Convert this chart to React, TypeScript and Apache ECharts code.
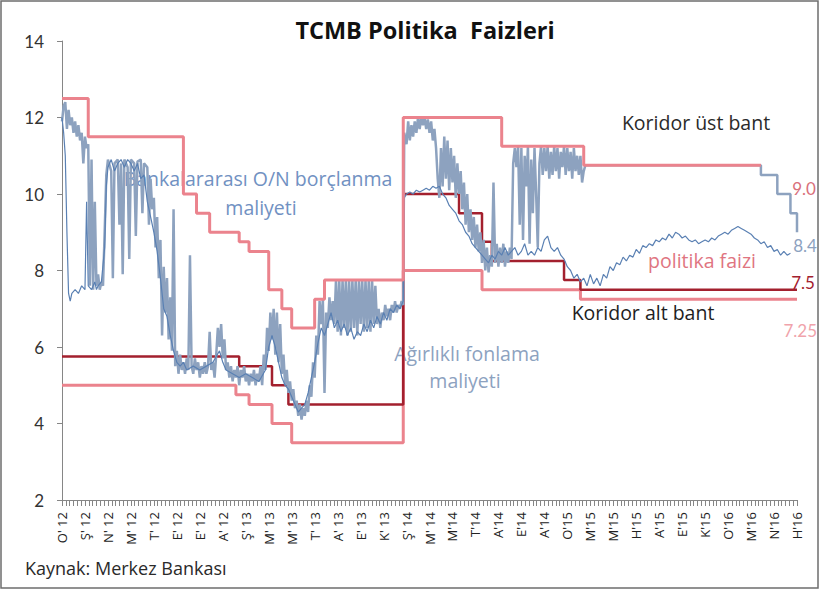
import React, { useEffect, useRef } from "react";
import * as echarts from "echarts";

// x positions are week indices (0 = start of Jan 2012); a label every 7 weeks
const X_LABELS = [
  "O' 12", "Ş' 12", "N' 12", "M' 12", "T' 12", "E' 12", "E' 12", "A' 12",
  "Ş' 13", "M' 13", "M' 13", "T' 13", "A' 13", "E' 13", "K' 13",
  "Ş' 14", "M' 14", "M'14", "T'14", "A'14", "E'14", "A'14",
  "O'15", "M'15", "M'15", "H'15", "A'15", "E'15", "K'15",
  "O'16", "M'16", "N'16", "H'16",
];

const Y_TICKS = [2, 4, 6, 8, 10, 12, 14];

// step series: [week, value] change points
const UPPER_BAND = [
  [0, 12.5], [8, 11.5], [37, 10], [41, 9.5], [45, 9], [54, 8.75], [57, 8.5],
  [63, 7.5], [67, 7], [70, 6.5], [77, 7.25], [80, 7.75], [104, 12], [134, 11.25],
  [159, 10.75], [213, 10.75],
];
const POLICY_RATE = [
  [0, 5.75], [54, 5.5], [64, 5.0], [69, 4.5], [104, 10], [121, 9.5], [128, 8.75],
  [131, 8.25], [153, 7.75], [158, 7.5], [224, 7.5],
];
const LOWER_BAND = [
  [0, 5], [53, 4.75], [57, 4.5], [64, 4.0], [70, 3.5], [104, 8], [128, 7.5],
  [158, 7.25], [224, 7.25],
];

// Bankalararası O/N borçlanma maliyeti
const ON_RATE = [
  [0, 11.9], [0.5, 12.3], [1, 12.4], [1.5, 11.7], [2, 12.2], [2.5, 11.8], [3, 12.0], [3.5, 11.6],
  [4, 11.9], [4.5, 11.5], [5, 11.8], [5.5, 11.4], [6, 11.6], [6.5, 10.8], [7, 11.5], [7.5, 11.2],
  [8, 11.3], [8.5, 7.6], [9, 10.9], [9.5, 7.5], [10, 9.8], [10.5, 7.6], [11, 7.9], [11.5, 7.5],
  [12, 7.7], [12.5, 7.6], [13, 9.0], [13.5, 10.5], [14, 10.9], [15, 10.6], [15.5, 7.8], [16, 10.8],
  [17, 10.9], [17.5, 9.2], [18, 10.8], [18.5, 7.9], [19, 10.9], [20, 10.7], [20.5, 8.3], [21, 10.9],
  [22, 10.8], [22.5, 8.9], [23, 10.85], [24, 10.9], [24.5, 9.5], [25, 10.8], [26, 10.7], [26.5, 9.2],
  [27, 10.4], [27.5, 9.6], [28, 9.9], [28.5, 8.6], [29, 9.4], [29.5, 7.8], [30, 8.8], [30.5, 6.3],
  [31, 8.1], [31.5, 6.9], [32, 7.8], [32.5, 6.2], [33, 7.3], [33.5, 5.9], [34, 9.6], [34.5, 5.5],
  [35, 5.9], [35.5, 5.3], [36, 5.8], [36.5, 5.4], [37, 5.6], [37.5, 5.3], [38, 5.7], [38.5, 5.4],
  [39, 8.4], [39.5, 5.5], [40, 5.3], [40.5, 5.7], [41, 5.4], [41.5, 5.6], [42, 5.2], [42.5, 5.5],
  [43, 5.3], [43.5, 5.6], [44, 5.3], [44.5, 5.5], [45, 6.4], [45.5, 5.4], [46, 5.6], [46.5, 5.2],
  [47, 5.8], [47.5, 6.5], [48, 6.0], [48.5, 6.6], [49, 5.7], [49.5, 6.2], [50, 5.4], [50.5, 5.6],
  [51, 5.2], [51.5, 5.5], [52, 5.1], [52.5, 5.4], [53, 5.2], [53.5, 5.5], [54, 5.0], [54.5, 5.4],
  [55, 5.2], [55.5, 5.5], [56, 5.1], [56.5, 5.3], [57, 5.0], [57.5, 5.3], [58, 5.1], [58.5, 5.4],
  [59, 5.0], [59.5, 5.3], [60, 5.1], [60.5, 5.5], [61, 5.0], [61.5, 5.8], [62, 5.4], [62.5, 6.5],
  [63, 5.9], [63.5, 6.9], [64, 6.2], [64.5, 7.0], [65, 5.8], [65.5, 6.9], [66, 5.6], [66.5, 6.6],
  [67, 5.3], [67.5, 5.8], [68, 5.0], [68.5, 5.4], [69, 4.8], [69.5, 5.1], [70, 4.6], [70.5, 4.9],
  [71, 4.4], [71.5, 4.6], [72, 4.2], [72.5, 4.5], [73, 4.1], [73.5, 4.4], [74, 4.2], [74.5, 4.6],
  [75, 4.3], [75.5, 5.0], [76, 4.7], [76.5, 5.6], [77, 5.2], [77.5, 6.3], [78, 5.8], [78.5, 7.2],
  [79, 6.6], [79.5, 7.25], [80, 4.8], [80.5, 6.9], [81, 6.5], [81.5, 7.3], [82, 6.7], [82.5, 7.2],
  [83, 6.6], [83.5, 7.75], [84, 6.4], [84.5, 7.75], [85, 6.3], [85.5, 7.75], [86, 6.5], [86.5, 7.75],
  [87, 6.3], [87.5, 7.75], [88, 6.4], [88.5, 7.75], [89, 6.5], [89.5, 7.75], [90, 6.3], [90.5, 7.75],
  [91, 6.6], [91.5, 7.75], [92, 6.4], [92.5, 7.75], [93, 6.5], [93.5, 7.75], [94, 6.4], [94.5, 7.75],
  [95, 6.6], [95.5, 7.6], [96, 6.6], [96.5, 7.0], [97, 6.5], [97.5, 6.9], [98, 6.7], [98.5, 7.1],
  [99, 6.8], [99.5, 7.0], [100, 6.7], [100.5, 7.1], [101, 6.9], [101.5, 7.2], [102, 6.9], [102.5, 7.1],
  [103, 7.0], [103.5, 7.2], [104, 7.1], [104.3, 11.6], [105, 11.3], [105.5, 11.9], [106, 11.4], [106.5, 11.8],
  [107, 11.5], [107.5, 11.9], [108, 11.6], [108.5, 12.0], [109, 11.7], [109.5, 12.0], [110, 11.8], [110.5, 12.0],
  [111, 11.7], [111.5, 11.95], [112, 11.6], [112.5, 11.9], [113, 11.4], [113.5, 11.7], [114, 11.2], [114.5, 10.4],
  [115, 9.9], [115.5, 11.2], [116, 10.2], [116.5, 11.5], [117, 10.4], [117.5, 11.4], [118, 10.1], [118.5, 11.2],
  [119, 10.3], [119.5, 11.0], [120, 9.9], [120.5, 10.8], [121, 10.0], [121.5, 10.6], [122, 9.6], [122.5, 10.3],
  [123, 9.2], [123.5, 10.0], [124, 9.0], [124.5, 9.6], [125, 8.8], [125.5, 9.4], [126, 8.6], [126.5, 9.2],
  [127, 8.5], [127.5, 9.0], [128, 8.2], [128.5, 8.8], [129, 8.0], [129.5, 8.6], [130, 7.95], [130.5, 8.4],
  [131, 8.1], [131.5, 10.3], [132, 8.2], [132.5, 8.7], [133, 8.1], [133.5, 8.6], [134, 8.2], [134.5, 8.7],
  [135, 8.1], [135.5, 8.5], [136, 8.2], [136.5, 8.6], [137, 8.3], [137.5, 10.8], [138, 11.2], [138.5, 10.7],
  [139, 11.25], [139.5, 9.2], [140, 11.2], [140.5, 8.8], [141, 11.0], [141.5, 10.2], [142, 11.25], [142.5, 8.7],
  [143, 10.9], [143.5, 9.5], [144, 11.2], [144.5, 10.0], [145, 8.6], [145.5, 10.8], [146, 11.25], [146.5, 10.5],
  [147, 11.2], [147.5, 10.6], [148, 11.25], [148.5, 10.4], [149, 11.1], [149.5, 10.5], [150, 11.25], [150.5, 10.6],
  [151, 11.2], [151.5, 10.4], [152, 11.1], [152.5, 10.7], [153, 11.25], [153.5, 10.5], [154, 11.2], [154.5, 10.6],
  [155, 11.1], [155.5, 10.4], [156, 11.2], [156.5, 10.6], [157, 11.0], [157.5, 10.5], [158, 11.0], [158.5, 10.3],
  [159, 10.6], [159.5, 10.75], [213, 10.75], [213, 10.5], [218, 10.5], [218, 10.0], [222, 10.0], [222, 9.5],
  [224, 9.5], [224, 9.0],
];

// Ağırlıklı fonlama maliyeti
const WEIGHTED_COST = [
  [0, 12.0], [0.5, 11.6], [1, 11.0], [1.5, 9.0], [2, 7.4], [2.5, 7.2], [3, 7.4], [4, 7.5],
  [5, 7.4], [6, 7.6], [7, 7.5], [7.5, 9.8], [8, 7.6], [9, 7.5], [10, 7.7], [10.5, 7.5],
  [11, 7.6], [12, 7.7], [13, 8.6], [13.5, 10.2], [14, 10.7], [15, 10.9], [16, 10.6], [17, 10.8],
  [18, 10.9], [19, 10.7], [20, 10.9], [21, 10.8], [22, 10.6], [23, 10.8], [24, 10.4], [25, 10.5],
  [26, 9.8], [27, 9.4], [28, 9.0], [29, 8.5], [30, 7.8], [31, 7.0], [32, 6.8], [33, 6.3],
  [34, 5.9], [35, 5.6], [36, 5.5], [37, 5.6], [38, 5.4], [40, 5.5], [42, 5.4], [44, 5.5],
  [46, 5.6], [48, 5.9], [49, 5.6], [50, 5.4], [52, 5.3], [54, 5.2], [56, 5.3], [58, 5.2],
  [60, 5.1], [62, 5.4], [63, 6.0], [64, 6.3], [65, 6.0], [66, 5.6], [67, 5.2], [68, 5.0],
  [69, 4.9], [70, 4.7], [71, 4.5], [72, 4.3], [73, 4.4], [74, 4.5], [75, 4.8], [76, 5.2],
  [77, 5.6], [78, 6.1], [79, 6.5], [80, 6.3], [81, 6.6], [82, 6.9], [83, 6.5], [84, 6.7],
  [85, 6.4], [86, 6.6], [87, 6.3], [88, 6.5], [89, 6.2], [90, 6.4], [91, 6.3], [92, 6.6],
  [93, 6.4], [94, 6.7], [95, 6.5], [96, 6.8], [97, 6.6], [98, 6.9], [99, 6.7], [100, 7.0],
  [101, 6.9], [102, 7.1], [103, 7.0], [104, 7.2], [104.3, 9.9], [105, 10.0], [106, 10.05], [107, 10.0],
  [108, 10.1], [109, 10.05], [110, 10.1], [111, 10.15], [112, 10.1], [113, 10.2], [114, 10.15], [115, 10.2],
  [116, 10.0], [117, 9.9], [118, 9.7], [119, 9.6], [120, 9.5], [121, 9.3], [122, 9.2], [123, 9.0],
  [124, 8.9], [125, 8.7], [126, 8.6], [127, 8.5], [128, 8.4], [129, 8.3], [130, 8.2], [131, 8.4],
  [132, 8.3], [133, 8.5], [134, 8.4], [135, 8.6], [136, 8.4], [137, 8.5], [138, 8.6], [139, 8.4],
  [140, 8.5], [141, 8.7], [142, 8.4], [143, 8.5], [144, 8.4], [145, 8.6], [146, 8.5], [147, 8.8],
  [148, 8.9], [149, 8.6], [150, 8.5], [151, 8.6], [152, 8.4], [153, 8.3], [154, 8.1], [155, 8.0],
  [156, 7.8], [157, 7.9], [158, 7.7], [159, 7.8], [160, 7.6], [161, 7.9], [162, 7.65], [163, 7.8],
  [164, 7.6], [165, 7.9], [166, 7.8], [167, 8.1], [168, 8.0], [169, 8.2], [170, 8.15], [171, 8.35],
  [172, 8.25], [173, 8.4], [174, 8.35], [175, 8.55], [176, 8.45], [177, 8.65], [178, 8.6], [179, 8.7],
  [180, 8.65], [181, 8.8], [182, 8.75], [183, 8.85], [184, 8.8], [185, 8.95], [186, 8.85], [187, 9.0],
  [188, 8.95], [189, 8.85], [190, 8.9], [191, 8.8], [192, 8.75], [193, 8.8], [194, 8.7], [195, 8.75],
  [196, 8.8], [197, 8.75], [198, 8.85], [199, 8.8], [200, 8.9], [201, 8.95], [202, 9.0], [203, 8.95],
  [204, 9.05], [205, 9.1], [206, 9.15], [207, 9.1], [208, 9.05], [209, 9.0], [210, 8.95], [211, 8.85],
  [212, 8.8], [213, 8.7], [214, 8.75], [215, 8.6], [216, 8.65], [217, 8.5], [218, 8.55], [219, 8.4],
  [220, 8.5], [221, 8.4], [222, 8.45],
];

const FONT = 'Lato, "Open Sans", "DejaVu Sans", sans-serif';
const WIDE_FONT = '"Open Sans", Lato, "DejaVu Sans", sans-serif';
const PINK = "#eb838d";
const DARK_RED = "#a3202e";
const GREY_BLUE = "#8da2bf";
const BLUE = "#5a80b3";

function txt(text: string, x: number, y: number, fill: string, fontSize = 17, extra: any = {}) {
  return {
    type: "text",
    x,
    y,
    silent: true,
    style: {
      text,
      fill,
      fontSize,
      fontFamily: WIDE_FONT,
      textAlign: "center",
      textVerticalAlign: "middle",
      ...extra,
    },
  };
}

export default function App() {
  const ref = useRef<HTMLDivElement>(null);

  useEffect(() => {
    document.body.style.margin = "0";
    const chart = echarts.init(ref.current!, null, { renderer: "svg" });
    const option: any = {
      animation: false,
      backgroundColor: "#ffffff",
      grid: { left: 62, right: 23, top: 41, bottom: 90, containLabel: false },
      xAxis: [
        {
          type: "value",
          min: 0,
          max: (X_LABELS.length - 1) * 7,
          interval: 7,
          axisLine: { show: true, lineStyle: { color: "#868686", width: 1 } },
          axisTick: { show: true, length: 6, lineStyle: { color: "#868686" } },
          minorTick: { show: true, splitNumber: 6, length: 6, lineStyle: { color: "#868686" } },
          splitLine: { show: false },
          axisLabel: { show: false },
        },
        {
          type: "category",
          data: X_LABELS,
          boundaryGap: false,
          position: "bottom",
          axisLine: { show: false },
          axisTick: { show: false },
          splitLine: { show: false },
          axisLabel: {
            rotate: 90,
            interval: 0,
            margin: 12,
            fontSize: 13,
            color: "#222",
            fontFamily: WIDE_FONT,
          },
        },
      ],
      yAxis: {
        type: "value",
        min: Y_TICKS[0],
        max: Y_TICKS[Y_TICKS.length - 1],
        interval: 2,
        axisLine: { show: true, lineStyle: { color: "#868686", width: 1 } },
        axisTick: { show: true, length: 5, lineStyle: { color: "#868686" } },
        splitLine: { show: false },
        axisLabel: { fontSize: 17, color: "#333", fontFamily: FONT, margin: 18 },
      },
      series: [
        {
          name: "Koridor alt bant",
          type: "line",
          step: "end",
          data: LOWER_BAND,
          showSymbol: false,
          symbol: "none",
          silent: true,
          lineStyle: { color: PINK, width: 3 },
        },
        {
          name: "politika faizi",
          type: "line",
          step: "end",
          data: POLICY_RATE,
          showSymbol: false,
          symbol: "none",
          silent: true,
          lineStyle: { color: DARK_RED, width: 2.5 },
        },
        {
          name: "Bankalararası O/N borçlanma maliyeti",
          type: "line",
          data: ON_RATE,
          showSymbol: false,
          symbol: "none",
          silent: true,
          lineStyle: { color: GREY_BLUE, width: 2.5 },
        },
        {
          name: "Ağırlıklı fonlama maliyeti",
          type: "line",
          data: WEIGHTED_COST,
          showSymbol: false,
          symbol: "none",
          silent: true,
          lineStyle: { color: BLUE, width: 1.2 },
        },
        {
          name: "Koridor üst bant",
          type: "line",
          step: "end",
          data: UPPER_BAND,
          showSymbol: false,
          symbol: "none",
          silent: true,
          lineStyle: { color: PINK, width: 3 },
        },
      ],
      graphic: [
        {
          type: "rect",
          silent: true,
          shape: { x: 1, y: 1, width: 817, height: 587 },
          style: { fill: "none", stroke: "#6e6e6e", lineWidth: 1.5 },
        },
        txt("TCMB Politika  Faizleri", 425, 30, "#111", 23.5, { fontWeight: "bold" }),
        txt("Bankalararası O/N borçlanma", 258, 178, "#7191c2", 19.5),
        txt("maliyeti", 261, 207, "#7191c2", 19.5),
        txt("Ağırlıklı fonlama", 467, 353, "#8da2bf", 19.5),
        txt("maliyeti", 465, 380, "#8da2bf", 19.5),
        txt("Koridor üst bant", 696, 122, "#2a2a2a", 19.5),
        txt("politika faizi", 702, 260, "#e07581", 19.5),
        txt("Koridor alt bant", 643, 312, "#1e1e1e", 19.5),
        txt("9.0", 804, 188, "#d9707b", 17, { fontFamily: FONT }),
        txt("8.4", 805, 245, "#8da2bf", 17, { fontFamily: FONT }),
        txt("7.5", 803, 282, DARK_RED, 17, { fontFamily: FONT }),
        txt("7.25", 817, 330, "#f0a3ab", 17, { fontFamily: FONT, textAlign: "right" }),
        txt("Kaynak: Merkez Bankası", 25, 568, "#2a2a2a", 18, { textAlign: "left" }),
      ],
    };
    chart.setOption(option);
    return () => chart.dispose();
  }, []);

  return (
    <div
      ref={ref}
      style={{ position: "absolute", left: 0, top: 0, width: 820, height: 590 }}
    />
  );
}
